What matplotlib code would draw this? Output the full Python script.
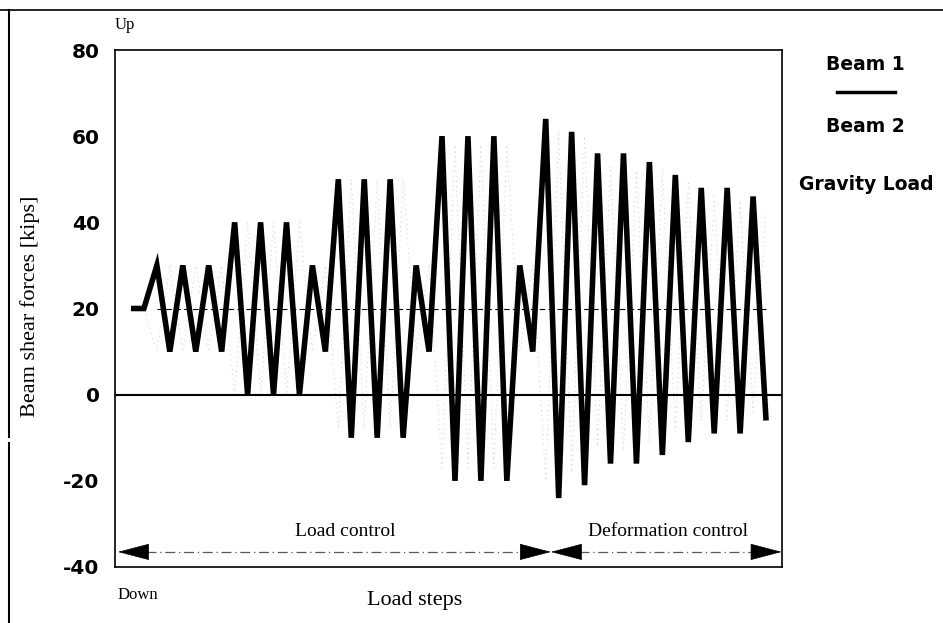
import matplotlib
matplotlib.use("Agg")
import matplotlib.pyplot as plt
from matplotlib.lines import Line2D

# load step index of every turning point of the cyclic history
steps = list(range(50))

# beam shear forces [kips] at each load step
beam1 = [20, 20, 30, 10, 30, 10, 30, 10, 40, 0, 40, 0, 40, 0, 30, 10,
         50, -10, 50, -10, 50, -10, 30, 10, 60, -20, 60, -20, 60, -20, 30, 10,
         64, -24, 61, -21, 56, -16, 56, -16, 54, -14, 51, -11, 48, -9, 48, -9, 46, -6]
beam2 = [20, 20, 10, 30, 10, 30, 10, 30, 0, 40, 0, 40, 0, 40, 10, 30,
         -8, 50, -8, 50, -8, 50, 10, 30, -17, 58, -17, 58, -17, 58, 10, 30,
         -20, 61, -18, 60, -12, 53, -13, 52, -11, 52, -8, 49, -6, 46, -6, 45, -4, 43]

gravity_load = 20
gravity_steps = [2, 49]

# test phases (start step, end step)
load_control = [-1.0, 32.4]
deformation_control = [32.4, 50.2]
phase_y = -36.5

yticks = [-40, -20, 0, 20, 40, 60, 80]

W, H = 943, 623
SERIF = "Liberation Serif"
SANS = "DejaVu Sans"

fig = plt.figure(figsize=(W / 100, H / 100), dpi=100)
ax = fig.add_axes([115 / W, 1 - 567 / H, (782 - 115) / W, (567 - 50) / H])


def fx(px):
    return px / W


def fy(py):
    return 1 - py / H


# series
ax.plot(steps, beam2, color="0.8", lw=0.7, linestyle=(0, (1, 4)), zorder=2)
ax.plot(steps, beam1, color="black", lw=4.0, solid_joinstyle="miter",
        solid_capstyle="butt", zorder=3)
ax.plot(gravity_steps, [gravity_load, gravity_load], color="black", lw=0.8,
        linestyle=(0, (5, 3)), zorder=4)
ax.axhline(0, color="black", lw=1.5, zorder=2.5)

ax.set_xlim(-1.23, 50.23)
ax.set_ylim(-40, 80)
ax.set_xticks([])
ax.set_yticks(yticks)
ax.set_yticklabels([str(v) for v in yticks], family=SANS, fontweight="bold",
                   fontsize=14.5)
ax.tick_params(axis="y", length=0, pad=11)
for sp in ax.spines.values():
    sp.set_linewidth(1.2)


# phase arrows
def phase_arrow(x0, x1):
    head = dict(arrowstyle="-|>,head_length=2.1,head_width=0.55", color="black",
                lw=0.5, shrinkA=0, shrinkB=0)
    ax.annotate("", xy=(x0, phase_y), xytext=(x0 + 2.3, phase_y), arrowprops=head)
    ax.annotate("", xy=(x1, phase_y), xytext=(x1 - 2.3, phase_y), arrowprops=head)
    ax.plot([x0 + 2.2, x1 - 2.2], [phase_y, phase_y], color="0.35", lw=0.9,
            linestyle=(0, (8, 3, 1, 3)))


phase_arrow(load_control[0], load_control[1])
phase_arrow(deformation_control[0], deformation_control[1])
ax.text(16.5, -31.8, "Load control", ha="center", va="center", family=SERIF, fontsize=14)
ax.text(41.4, -31.8, "Deformation control", ha="center", va="center",
        family=SERIF, fontsize=14)

# axis labels and notes
fig.text(fx(30), fy(306), "Beam shear forces [kips]", rotation=90, ha="center",
         va="center", family=SERIF, fontsize=16)
fig.text(fx(415), fy(600), "Load steps", ha="center", va="center", family=SERIF,
         fontsize=16)
fig.text(fx(115), fy(25), "Up", ha="left", va="center", family=SERIF, fontsize=12)
fig.text(fx(118), fy(595), "Down", ha="left", va="center", family=SERIF, fontsize=12)

# legend block on the right
fig.text(fx(865), fy(64), "Beam 1", ha="center", va="center", family=SANS,
         fontweight="bold", fontsize=13.5)
fig.add_artist(Line2D([fx(837), fx(895)], [fy(92), fy(92)], color="black", lw=2.5))
fig.text(fx(865), fy(126), "Beam 2", ha="center", va="center", family=SANS,
         fontweight="bold", fontsize=13.5)
fig.text(fx(866), fy(184), "Gravity Load", ha="center", va="center", family=SANS,
         fontweight="bold", fontsize=13.5)

# outer frame of the scanned figure
fig.add_artist(Line2D([0, 1], [fy(10), fy(10)], color="black", lw=1.2))
fig.add_artist(Line2D([fx(9), fx(9)], [fy(10), fy(437)], color="black", lw=1.5))
fig.add_artist(Line2D([fx(9), fx(9)], [fy(443), 0], color="black", lw=1.5))

fig.savefig("out.png", dpi=100)
